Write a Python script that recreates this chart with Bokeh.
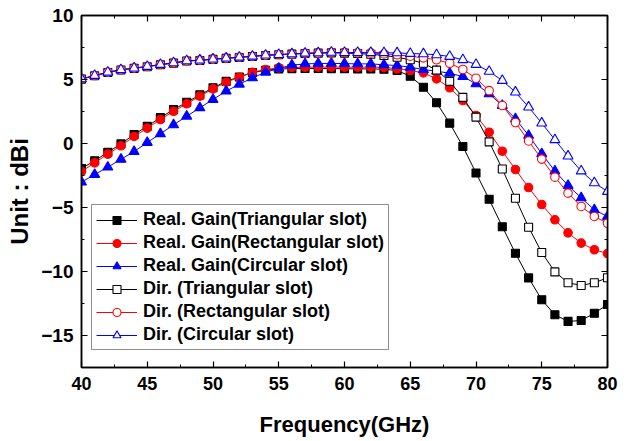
from bokeh.plotting import figure
from bokeh.models import (Range1d, LinearAxis, SingleIntervalTicker, Legend, LegendItem,
                          CustomJSTickFormatter)
from bokeh.embed import file_html
from bokeh.resources import INLINE

freq = list(range(40, 81))

gain_tri = [-1.95, -1.35, -0.68, -0.03, 0.70, 1.35, 2.02, 2.65, 3.22, 3.80,
            4.35, 4.85, 5.20, 5.55, 5.72, 5.82, 5.85, 5.86, 5.86, 5.85,
            5.84, 5.83, 5.83, 5.80, 5.70, 5.26, 4.40, 3.18, 1.59, -0.23,
            -2.30, -4.36, -6.50, -8.58, -10.50, -12.21, -13.38, -13.90, -13.83, -13.26,
            -12.58]
gain_rect = [-2.19, -1.51, -0.83, -0.18, 0.55, 1.20, 1.87, 2.52, 3.10, 3.70,
             4.27, 4.79, 5.18, 5.57, 5.78, 5.91, 5.94, 5.96, 5.97, 5.97,
             5.96, 5.96, 5.96, 5.95, 5.83, 5.70, 5.52, 5.05, 4.35, 3.36,
             2.19, 0.88, -0.60, -2.03, -3.44, -4.77, -5.96, -6.98, -7.78, -8.30,
             -8.60]
gain_circ = [-3.02, -2.42, -1.85, -1.23, -0.63, 0.08, 0.76, 1.46, 2.13, 2.79,
             3.44, 4.09, 4.63, 5.13, 5.57, 5.88, 6.12, 6.22, 6.25, 6.26,
             6.24, 6.22, 6.22, 6.15, 6.09, 5.96, 5.78, 5.65, 5.49, 5.23,
             4.66, 3.88, 2.97, 1.93, 0.63, -0.80, -2.15, -3.28, -4.25, -5.18,
             -5.70]
dir_tri = [5.03, 5.29, 5.55, 5.74, 5.87, 6.00, 6.15, 6.28, 6.44, 6.49,
           6.57, 6.65, 6.72, 6.80, 6.88, 6.93, 6.98, 7.03, 7.06, 7.08,
           7.06, 7.03, 6.97, 6.88, 6.74, 6.54, 6.27, 5.73, 4.85, 3.60,
           2.06, 0.13, -1.99, -4.28, -6.54, -8.52, -10.03, -10.88, -11.09, -10.88,
           -10.49]
dir_rect = [5.05, 5.31, 5.57, 5.76, 5.89, 6.02, 6.17, 6.30, 6.46, 6.51,
            6.59, 6.67, 6.74, 6.82, 6.90, 6.95, 7.00, 7.05, 7.08, 7.11,
            7.10, 7.09, 7.08, 7.00, 6.93, 6.82, 6.69, 6.54, 6.27, 5.78,
            5.10, 4.13, 2.97, 1.64, 0.20, -1.22, -2.63, -3.88, -4.92, -5.70,
            -6.23]
dir_circ = [5.05, 5.31, 5.57, 5.76, 5.89, 6.02, 6.17, 6.30, 6.46, 6.51,
            6.59, 6.67, 6.74, 6.82, 6.90, 6.95, 7.00, 7.05, 7.08, 7.12,
            7.10, 7.10, 7.10, 7.09, 7.08, 7.03, 7.00, 6.93, 6.80, 6.54,
            6.17, 5.63, 4.92, 4.01, 2.84, 1.59, 0.29, -0.99, -2.15, -3.07,
            -3.75]

labels = ["Real. Gain(Triangular slot)", "Real. Gain(Rectangular slot)",
          "Real. Gain(Circular slot)", "Dir. (Triangular slot)",
          "Dir. (Rectangular slot)", "Dir. (Circular slot)"]

FONT = "Liberation Sans"

p = figure(width=633, height=441, output_backend="svg", toolbar_location=None,
           x_range=Range1d(40, 80), y_range=Range1d(-17.5, 10),
           min_border_left=81, min_border_right=26, min_border_top=15,
           min_border_bottom=74, x_axis_type=None, y_axis_type=None)
p.outline_line_color = "black"
p.outline_line_width = 1.5
p.background_fill_color = "white"
p.border_fill_color = "white"

xt = SingleIntervalTicker(interval=5, num_minor_ticks=2)
yt = SingleIntervalTicker(interval=5, num_minor_ticks=2)


def style_axis(ax, show_labels):
    ax.axis_line_color = "black"
    ax.axis_line_width = 1.5
    ax.major_tick_in = 6
    ax.major_tick_out = 0
    ax.minor_tick_in = 3
    ax.minor_tick_out = 0
    ax.major_tick_line_width = 1.2
    ax.minor_tick_line_width = 1.0
    ax.major_label_text_font = FONT
    ax.major_label_text_font_style = "bold"
    ax.major_label_text_color = "black"
    ax.axis_label_text_font = FONT
    ax.axis_label_text_font_style = "bold"
    ax.axis_label_text_color = "black"
    if not show_labels:
        ax.formatter = CustomJSTickFormatter(code="return '';")
        ax.major_label_standoff = 0


xb = LinearAxis(ticker=xt, axis_label="Frequency(GHz)")
style_axis(xb, True)
xb.major_label_text_font_size = "18px"
xb.major_label_standoff = 9
xb.axis_label_text_font_size = "22px"
xb.axis_label_standoff = 19
p.add_layout(xb, "below")

yl = LinearAxis(ticker=yt, axis_label="Unit : dBi")
style_axis(yl, True)
yl.major_label_text_font_size = "19px"
yl.major_label_standoff = 8
yl.axis_label_text_font_size = "24px"
yl.axis_label_standoff = 5
p.add_layout(yl, "left")

xa = LinearAxis(ticker=xt)
style_axis(xa, False)
p.add_layout(xa, "above")
yr = LinearAxis(ticker=yt)
style_axis(yr, False)
p.add_layout(yr, "right")

p.xgrid.ticker = xt
p.ygrid.ticker = yt
for g in (p.xgrid, p.ygrid):
    g.grid_line_color = "#a0a0a0"
    g.grid_line_width = 1.3
    g.minor_grid_line_color = "#cccccc"
    g.minor_grid_line_dash = "1 2"
    g.minor_grid_line_width = 1

series = [
    (gain_tri, "black", "square", "black", 8),
    (gain_rect, "red", "circle", "red", 8.5),
    (gain_circ, "blue", "triangle", "blue", 10),
    (dir_tri, "black", "square", "white", 8),
    (dir_rect, "red", "circle", "white", 8.5),
    (dir_circ, "blue", "triangle", "white", 10),
]

items = []
for (vals, col, mk, fill, sz), lab in zip(series, labels):
    ln = p.line(freq, vals, line_color=col, line_width=1)
    sc = p.scatter(freq, vals, marker=mk, size=sz, line_color=col,
                   fill_color=fill, line_width=1.1)
    items.append(LegendItem(label=lab, renderers=[ln, sc]))

legend = Legend(items=items, location=(10, 17))
legend.label_text_font = FONT
legend.label_text_font_style = "bold"
legend.label_text_font_size = "18px"
legend.label_text_color = "black"
legend.glyph_width = 41
legend.glyph_height = 20
legend.label_height = 20
legend.label_standoff = 6
legend.spacing = 2
legend.padding = 4
legend.margin = 0
legend.border_line_color = "#222222"
legend.border_line_width = 1
legend.background_fill_color = "white"
legend.background_fill_alpha = 1
p.add_layout(legend, "center")

open("out.html", "w").write(file_html(p, INLINE))
